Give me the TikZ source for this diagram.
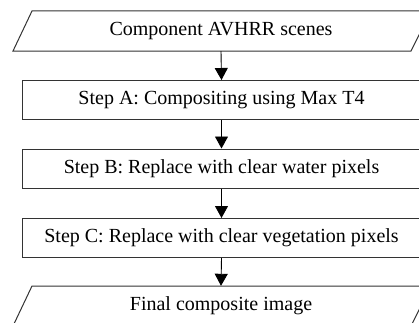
\documentclass[tikz,border=0pt]{standalone}
\usepackage{fontspec}
\setmainfont{Liberation Serif}
\usetikzlibrary{arrows.meta,calc}
\begin{document}
\begin{tikzpicture}[x=1pt,y=1pt,
  box/.style={draw=black!80,line width=1pt,minimum width=399pt,minimum height=39pt,inner sep=0pt,font=\fontsize{20}{24}\selectfont},
  io/.style={minimum width=1pt,minimum height=40pt,inner sep=0pt,font=\fontsize{20}{24}\selectfont},
  outline/.style={draw=black!80,line width=1pt},
  flow/.style={line width=0.9pt,-{Triangle[width=13pt,length=12pt]}}]
\useasboundingbox (0,0) rectangle (419,322);
\node[io] (in) at (221,291) {Component AVHRR scenes};
\draw[outline] ($(in.center)+(-208,-20)$) -- ($(in.center)+(190,-20)$) -- ($(in.center)+(210,20)$) -- ($(in.center)+(-189,20)$) -- cycle;
\node[box] (A) at (221.5,222) {Step A: Compositing using Max T4};
\node[box] (B) at (221.5,153.5) {Step B: Replace with clear water pixels};
\node[box] (C) at (221.5,84) {Step C: Replace with clear vegetation pixels};
\node[io] (out) at (221,16) {Final composite image};
\draw[outline] ($(out.center)+(-208,-20)$) -- ($(out.center)+(190,-20)$) -- ($(out.center)+(210,20)$) -- ($(out.center)+(-189,20)$) -- cycle;
\draw[flow] (in.south) -- (A.north);
\draw[flow] (A.south) -- (B.north);
\draw[flow] (B.south) -- (C.north);
\draw[flow] (C.south) -- (out.north);
\end{tikzpicture}
\end{document}
